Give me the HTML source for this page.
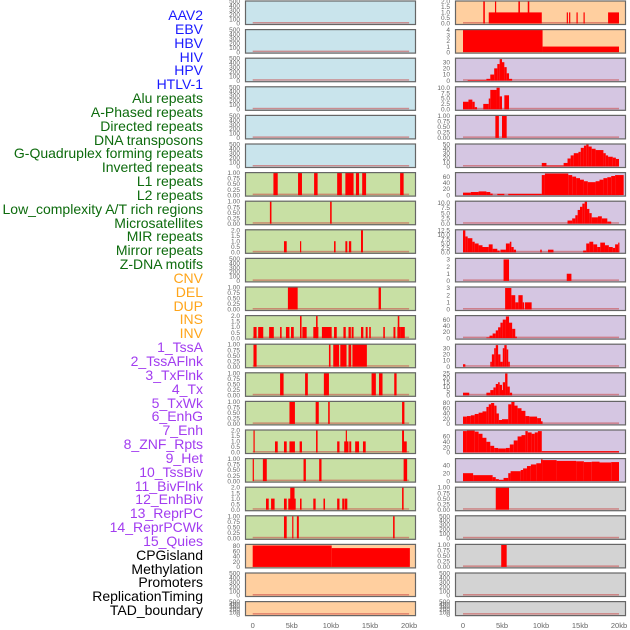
<!DOCTYPE html>
<html><head><meta charset="utf-8"><style>
html,body{margin:0;padding:0;background:#fff;}
#wrap{position:relative;width:630px;height:630px;overflow:hidden;}
#labels div{position:absolute;right:427px;font:14px "Liberation Sans",sans-serif;white-space:nowrap;line-height:14px;}
svg text{font-family:"Liberation Sans",sans-serif;}
</style></head><body>
<div id="wrap">
<div id="labels"></div>
<svg id="chart" width="630" height="630" style="position:absolute;left:0;top:0"></svg>
</div>
<script>
// ---- data ----
const trackLabels = ["AAV2","EBV","HBV","HIV","HPV","HTLV-1","Alu repeats","A-Phased repeats","Directed repeats","DNA transposons","G-Quadruplex forming repeats","Inverted repeats","L1 repeats","L2 repeats","Low_complexity A/T rich regions","Microsatellites","MIR repeats","Mirror repeats","Z-DNA motifs","CNV","DEL","DUP","INS","INV","1_TssA","2_TssAFlnk","3_TxFlnk","4_Tx","5_TxWk","6_EnhG","7_Enh","8_ZNF_Rpts","9_Het","10_TssBiv","11_BivFlnk","12_EnhBiv","13_ReprPC","14_ReprPCWk","15_Quies","CPGisland","Methylation","Promoters","ReplicationTiming","TAD_boundary"];
const labelGroups = [6,13,5,15,5];
const labelColors = ["#1a1aff","#0d6b0d","#ffa51a","#a23cf0","#000000"];

const midBg = ["#c9e4ec","#c9e4ec","#c9e4ec","#c9e4ec","#c9e4ec","#c9e4ec","#c8e0a4","#c8e0a4","#c8e0a4","#c8e0a4","#c8e0a4","#c8e0a4","#c8e0a4","#c8e0a4","#c8e0a4","#c8e0a4","#c8e0a4","#c8e0a4","#c8e0a4","#ffcf9f","#ffcf9f","#ffcf9f"];
const rightBg = ["#ffcf9f","#ffcf9f","#d5c6e2","#d5c6e2","#d5c6e2","#d5c6e2","#d5c6e2","#d5c6e2","#d5c6e2","#d5c6e2","#d5c6e2","#d5c6e2","#d5c6e2","#d5c6e2","#d5c6e2","#d5c6e2","#d5c6e2","#d3d3d3","#d3d3d3","#d3d3d3","#d3d3d3","#d3d3d3"];

const midYmax = [500,500,500,500,500,500,1,1,2,500,1,2,1,1,1,2,1,2,1,85,500,500];
const rightYmax = [2,4,36,10.3,1,50,72,10.5,12.6,3.1,3.1,72,36,25.5,85,83,56,1,500,1,500,500];

const tickEmpty = ["0","100","200","300","400","500"];
const tick1 = ["0.00","0.25","0.50","0.75","1.00"];
const tick2 = ["0.0","0.5","1.0","1.5","2.0"];
const midTicks = [tickEmpty,tickEmpty,tickEmpty,tickEmpty,tickEmpty,tickEmpty,tick1,tick1,tick2,tickEmpty,tick1,tick2,tick1,tick1,tick1,tick2,tick1,tick2,tick1,["0","20","40","60","80"],tickEmpty,tickEmpty];
const rightTicks = [tick2,["0","1","2","3","4"],["0","10","20","30"],["0.0","2.5","5.0","7.5","10.0"],tick1,["0","10","20","30","40","50"],["0","20","40","60"],["0.0","2.5","5.0","7.5","10.0"],["0.0","2.5","5.0","7.5","10.0","12.5"],["0","1","2","3"],["0","1","2","3"],["0","20","40","60"],["0","10","20","30"],["0","5","10","15","20","25"],["0","20","40","60","80"],["0","20","40","60"],["0","20","40"],tick1,tickEmpty,tick1,tickEmpty,tickEmpty];

const xTickLabels = ["0","5kb","10kb","15kb","20kb"];
const xTickKb = [0,5,10,15,20];

// mid column intervals [startKb, endKb, value]
const midData = [
 [],[],[],[],[],[],
 [[2.65,3.2,1],[5.8,6.3,1],[7.85,8.3,1],[10.8,11.4,1],[11.85,12.9,1],[13.2,13.6,1],[14.0,14.5,1],[18.85,19.3,1]],
 [[2.2,2.4,1],[9.9,10.1,1]],
 [[4.0,4.35,1],[6.05,6.2,1],[10.4,10.6,1],[11.85,12.1,1],[12.3,12.6,1],[13.85,14.1,2]],
 [],
 [[4.5,5.75,1],[16.1,16.4,1]],
 [[0.1,0.5,1],[0.7,1.35,1],[2.1,2.7,1],[3.5,3.7,1],[4.25,4.7,1],[4.9,5.25,1],[6.05,6.25,2],[6.35,6.9,1],[7.75,8.4,1],[8.1,8.3,2],[8.85,10.1,1],[10.4,10.75,1],[11.6,11.9,1],[12.25,12.55,1],[12.65,12.9,1],[13.85,14.15,1],[14.45,14.7,1],[14.9,15.1,1],[16.7,16.9,1],[18.0,18.25,1],[18.5,18.95,1],[18.55,18.75,2],[18.95,19.45,1]],
 [[0.1,0.5,1],[9.75,9.95,1],[10.3,11.05,1],[11.2,12.0,1],[12.25,12.6,1],[12.75,14.6,1]],
 [[3.5,3.95,1],[6.7,7.05,1],[9.1,9.75,1],[15.2,15.75,1],[16.15,16.6,1],[18.1,18.4,1]],
 [[4.7,5.4,1],[8.05,8.45,1],[9.65,9.85,1],[19.1,19.4,1]],
 [[0.1,0.25,2],[2.85,3.2,1],[4.0,4.35,1],[4.7,5.4,1],[6.0,6.3,1],[8.1,8.3,2],[10.8,11.1,1],[11.7,12.25,1],[11.9,12.0,2],[12.35,12.6,1],[13.1,13.6,1],[14.1,14.45,1],[19.1,19.35,2],[19.35,19.7,1]],
 [[0.0,0.15,1],[1.3,1.8,1],[6.5,6.8,1],[8.5,8.8,1],[19.3,19.75,1]],
 [[1.7,2.05,1],[2.35,2.8,1],[4.0,4.35,1],[4.55,5.5,1],[4.8,5.35,2],[6.05,6.25,1],[7.75,8.05,1],[9.05,9.25,1],[10.8,11.1,1],[11.45,11.7,1],[11.75,12.1,1],[19.1,19.3,2]],
 [[4.0,4.35,1],[5.05,5.2,1],[5.65,5.9,1],[17.95,18.15,1]],
 [[0,10.1,82],[10.1,20.1,72]],
 [],[]
];

// right column intervals [startKb, endKb, value]
const rightData = [
 [[2.6,2.8,2],[4.1,4.25,2],[3.3,10.1,1],[7.1,7.3,2],[8.3,8.5,2],[13.3,13.45,1],[13.6,13.75,1],[14.55,14.7,1],[15.45,15.6,1],[18.6,20.0,1]],
 [[0,10.2,4],[10.2,20,1]],
 [[0.6,3.0,1],[3.0,3.5,3],[3.5,4.0,10],[4.0,4.4,20],[4.4,4.7,27],[4.7,5.0,35],[5.0,5.3,30],[5.3,5.6,22],[5.6,5.9,12],[5.9,6.3,3]],
 [[0,0.7,3.5],[0.7,1.2,4.5],[1.2,1.5,3.5],[1.5,1.8,1],[2.6,3.3,2.5],[3.3,3.5,5],[3.5,4.3,9],[4.3,4.7,10],[4.7,5.0,6],[5.3,5.9,6.5]],
 [[4.15,4.6,1],[5.0,5.6,1]],
 [[10.1,10.7,8],[10.7,12.9,2],[12.9,13.4,8],[13.4,13.8,18],[13.8,14.2,25],[14.2,14.8,30],[14.8,15.1,33],[15.1,15.5,42],[15.5,15.8,47],[15.8,16.1,50],[16.1,16.5,45],[16.5,17,40],[17,18,37],[18,18.3,30],[18.3,18.6,25],[18.6,19.2,22],[19.2,19.6,20],[19.6,20,17]],
 [[0,1,8],[1,2,10],[2,3,12],[3,3.5,10],[3.5,3.8,5],[4.4,5.3,4],[5.8,10.1,4],[10.1,10.5,65],[10.5,13.5,70],[13.5,14,65],[14,14.5,60],[14.5,15,55],[15,15.5,50],[15.5,16,45],[16,17,42],[17,17.5,45],[17.5,18,50],[18,18.5,55],[18.5,19,58],[19,19.5,62],[19.5,20.6,65]],
 [[13.4,14.0,1.5],[14,14.4,2.5],[14.4,14.7,4],[14.7,15.0,6.5],[15.0,15.3,8],[15.3,15.6,9.5],[15.6,15.9,10.5],[15.9,16.2,7],[16.2,16.5,5],[16.5,17.3,3],[17.3,17.8,3.5],[17.8,18.5,2.5],[18.5,19.0,1]],
 [[0,0.3,12.5],[0.3,0.6,9],[0.6,1.2,8],[1.2,1.5,6],[1.5,2,5],[2,2.5,4],[2.5,3.3,3],[3.3,3.8,4.5],[3.8,4.4,2],[4.4,4.7,1],[4.8,5.5,1.5],[5.5,6,5],[6,6.2,6],[6.2,6.5,3],[6.5,6.8,1.5],[9.9,10.1,1.5],[10.9,11.6,1.5],[15.4,15.8,1],[15.8,16.2,5],[16.2,16.7,6],[16.7,17.2,4.5],[17.2,17.6,3],[17.6,18.2,5.5],[18.2,18.7,4],[18.7,19.2,3],[19.2,19.5,2.5],[19.5,19.9,4.5],[19.9,20,5.5]],
 [[5.2,5.9,3],[13.3,13.9,1]],
 [[5.4,6.2,3],[6.2,6.7,2],[6.7,7.1,1],[7.1,7.65,2],[7.65,7.85,1],[7.95,8.8,1]],
 [[3.0,3.4,2],[3.4,3.8,8],[3.8,4.2,15],[4.2,4.5,25],[4.5,4.8,35],[4.8,5.1,50],[5.1,5.5,60],[5.5,5.9,70],[5.9,6.3,50],[6.3,6.7,30],[6.7,6.9,5]],
 [[0,0.3,4],[3.5,3.7,8],[3.7,4.0,20],[4.0,4.2,30],[4.2,4.5,35],[4.5,4.8,20],[4.8,5.1,8],[5.1,5.3,30],[5.3,5.6,35],[5.6,5.8,28],[5.8,6.0,8]],
 [[0,0.8,3],[3.0,3.5,3],[3.5,3.9,6],[3.9,4.2,9],[4.2,4.5,13],[4.5,4.7,15],[4.7,5.0,12],[5.0,5.1,6],[5.1,5.4,15],[5.4,5.7,25],[5.7,6.0,10],[6.0,6.3,3]],
 [[0,0.5,28],[0.5,1,30],[1,1.5,33],[1.5,2,38],[2,2.5,43],[2.5,3,48],[3,3.3,65],[3.3,3.6,75],[3.6,4.0,80],[4.0,4.3,70],[4.3,4.6,40],[4.6,5.0,15],[5,5.8,18],[5.8,6.2,75],[6.2,6.6,85],[6.6,7,70],[7,7.5,60],[7.5,8,50],[8,8.5,30],[8.5,9.5,28],[9.5,10,22],[10,10.2,10]],
 [[0,0.5,80],[0.5,1.5,82],[1.5,2,78],[2,2.5,70],[2.5,3,55],[3,3.5,40],[3.5,4,25],[4,4.5,17],[4.5,5.5,15],[5.5,6,17],[6,6.5,30],[6.5,7,45],[7,7.5,60],[7.5,8,65],[8,8.3,80],[8.3,8.8,75],[8.8,9.2,70],[9.2,9.6,75],[9.6,10.1,80],[10.1,20,5]],
 [[0,1.3,20],[1.3,3.8,15],[3.8,4.2,10],[4.2,4.6,5],[4.6,5.2,3],[5.2,5.8,8],[5.8,6.1,20],[6.1,7.4,25],[7.4,7.7,28],[7.7,8.2,32],[8.2,8.7,38],[8.7,9.4,42],[9.4,10.0,45],[10.0,10.2,55],[10.2,12,53],[12,14.5,51],[14.5,15.5,50],[15.5,16.5,48],[16.5,17.5,49],[17.5,19,47],[19,20,48]],
 [[4.2,5.9,1]],
 [],
 [[4.9,5.6,1]],
 [],[]
];

// ---- drawing ----
const NS = "http://www.w3.org/2000/svg";
const svg = document.getElementById("chart");
function mk(tag, attrs){const e=document.createElementNS(NS,tag);for(const k in attrs)e.setAttribute(k,attrs[k]);return e;}

// labels
const labBox = document.getElementById("labels");
let gi=0, gc=0;
trackLabels.forEach((t,i)=>{
  const d=document.createElement("div");
  
  
  d.textContent=t;
  d.style.top=(8+i*13.84)+"px";
  d.style.color=labelColors[gi];
  labBox.appendChild(d);
  gc++; if(gc>=labelGroups[gi]){gi++;gc=0;}
});

const cols = [
  {x0:245,x1:416,zero:252.7,perKb:7.82,data:midData,bg:midBg,ymax:midYmax,ticks:midTicks,tickX:240,name:'mid'},
  {x0:455,x1:626,zero:463,perKb:7.8,data:rightData,bg:rightBg,ymax:rightYmax,ticks:rightTicks,tickX:450,name:'right'}
];
const nRows=22;
function rowTop(i){return 0.5+i*28.6;}
function rowH(i){return i===nRows-1?15:24.5;}

cols.forEach(col=>{
  const xs = kb=>col.zero+kb*col.perKb;
  for(let i=0;i<nRows;i++){
    const top=rowTop(i), h=rowH(i);
    const g=mk("g",{});
    
    
    svg.appendChild(g);
    const bg=mk("rect",{x:col.x0,y:top,width:col.x1-col.x0,height:h,fill:col.bg[i]});
    
    
    g.appendChild(bg);
    const yb=top+h-1.5, yt=top+0.8, ym=col.ymax[i];
    const ys=v=>yb-Math.min(v,ym)/ym*(yb-yt);
    const base=mk("rect",{x:xs(0),y:yb-1.5,width:xs(20)-xs(0),height:1.5,fill:"rgba(200,70,70,0.55)"});
    
    
    g.appendChild(base);
    col.data[i].forEach(s=>{
      const r=mk("rect",{x:xs(s[0]),y:ys(s[2]),width:Math.max(1.2,xs(s[1])-xs(s[0])),height:yb-ys(s[2]),fill:"#ff0000"});
      
      
      g.appendChild(r);
    });
    const fr=mk("rect",{x:col.x0+0.5,y:top+0.5,width:col.x1-col.x0-1,height:h-1,fill:"none",stroke:"#666",'stroke-width':1.2});
    
    
    g.appendChild(fr);
    const tk=col.ticks[i], n=tk.length;
    tk.forEach((t,k)=>{
      const v=parseFloat(t);
      const yy=(ym===500)? yb-(v/500)*(yb-yt) : ys(v);
      const tx=mk("text",{x:col.tickX,y:yy+2.2,'font-size':6.5,fill:"#666",'text-anchor':"end"});
      
      
      tx.textContent=t;
      g.appendChild(tx);
    });
  }
  xTickLabels.forEach((t,k)=>{
    const tx=mk("text",{x:xs(xTickKb[k]),y:628,'font-size':7.5,fill:"#666",'text-anchor':"middle"});
    
    
    tx.textContent=t;
    svg.appendChild(tx);
  });
});
</script>
</body></html>
